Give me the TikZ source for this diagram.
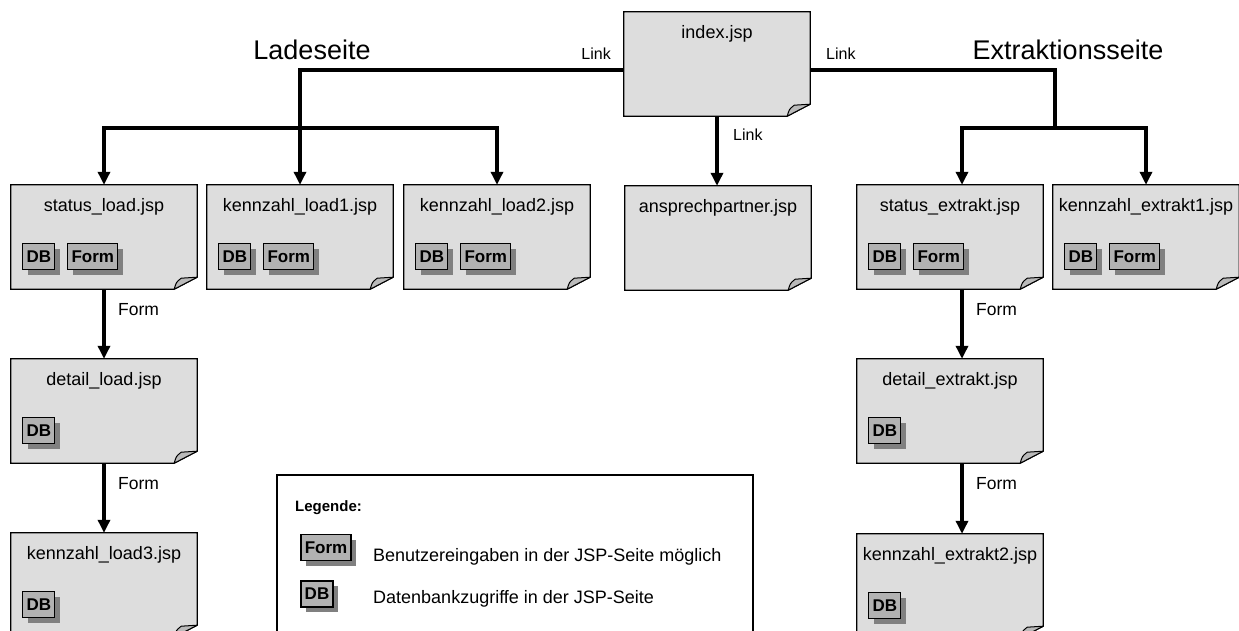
\documentclass[tikz,border=0pt]{standalone}
\usepackage{fontspec}
\setmainfont{Liberation Sans}
\usetikzlibrary{arrows.meta,shadows}

\definecolor{pagegray}{RGB}{221,221,221}
\definecolor{flapgray}{RGB}{186,186,186}
\definecolor{badgegray}{RGB}{178,178,178}
\definecolor{shadowgray}{RGB}{128,128,128}

\newcommand{\fsz}[1]{\fontsize{#1}{#1}\selectfont}

\tikzset{
  pagenode/.style={minimum width=186pt, minimum height=104pt, inner sep=0pt, draw=none},
  pagebody/.style={fill=pagegray, draw=black, line width=1.2pt},
  pageflap/.style={fill=flapgray, draw=black, line width=1pt, line join=round},
  pagetitle/.style={anchor=base, inner sep=0pt, font=\fsz{18}},
  badge/.style={draw=black, line width=1.2pt, fill=badgegray, inner sep=0pt,
    font=\bfseries\fsz{17}, minimum height=26pt,
    general shadow={fill=shadowgray, shadow xshift=5pt, shadow yshift=-5pt}},
  dbbadge/.style={badge, minimum width=32pt},
  formbadge/.style={badge, minimum width=50pt},
  conn/.style={line width=3.5pt, -{Triangle[width=12pt,length=13pt]}},
  bar/.style={line width=3.5pt},
  edgelabel/.style={anchor=base west, inner sep=0pt, font=\fsz{17.5}},
  linklabel/.style={anchor=base west, inner sep=0pt, font=\fsz{16}},
  sectionlabel/.style={anchor=base, inner sep=0pt, font=\fsz{27}},
  legendtext/.style={anchor=base west, inner sep=0pt, font=\fsz{18}},
}

% JSP page with folded bottom-right corner: name, left, top, title
\newcommand{\jsppage}[4]{%
  \node[pagenode] (#1) at (#2+93,#3+52) {};
  \filldraw[pagebody] (#1.north west) -- (#1.north east)
    -- ([yshift=12pt]#1.south east) -- ([xshift=-23pt]#1.south east)
    -- (#1.south west) -- cycle;
  \filldraw[pageflap] ([xshift=-23pt]#1.south east)
    .. controls ([xshift=-21pt,yshift=7pt]#1.south east)
    .. ([xshift=-16pt,yshift=11pt]#1.south east)
    -- ([yshift=12pt]#1.south east) -- cycle;
  \node[pagetitle] (#1-t) at ([yshift=-26.5pt]#1.north) {#4};
}
\newcommand{\jspdb}[1]{%
  \node[dbbadge] (#1-db) at ([xshift=28pt,yshift=-72pt]#1.north west) {DB};}
\newcommand{\jspform}[1]{%
  \node[formbadge] (#1-form) at ([xshift=82pt,yshift=-72pt]#1.north west) {Form};}

\begin{document}
\begin{tikzpicture}[x=1pt,y=-1pt]
\useasboundingbox (0,0) rectangle (1239,631);

% pages
\jsppage{index}{624}{12}{index.jsp}
\jsppage{sl}{11}{185}{status\_load.jsp}\jspdb{sl}\jspform{sl}
\jsppage{kl1}{207}{185}{kennzahl\_load1.jsp}\jspdb{kl1}\jspform{kl1}
\jsppage{kl2}{404}{185}{kennzahl\_load2.jsp}\jspdb{kl2}\jspform{kl2}
\jsppage{ap}{625}{186}{ansprechpartner.jsp}
\jsppage{se}{857}{185}{status\_extrakt.jsp}\jspdb{se}\jspform{se}
\jsppage{ke1}{1053}{185}{kennzahl\_extrakt1.jsp}\jspdb{ke1}\jspform{ke1}
\jsppage{dl}{11}{359}{detail\_load.jsp}\jspdb{dl}
\jsppage{de}{857}{359}{detail\_extrakt.jsp}\jspdb{de}
\jsppage{kl3}{11}{533}{kennzahl\_load3.jsp}\jspdb{kl3}
\jsppage{ke2}{857}{534}{kennzahl\_extrakt2.jsp}\jspdb{ke2}

% section titles
\node[sectionlabel] (lade) at (312,60) {Ladeseite};
\node[sectionlabel] (extr) at (1068,60) {Extraktionsseite};

% branch points
\coordinate (lbar) at (300,128);
\coordinate (rbar) at (1055,128);
\coordinate (sein) at ([xshift=12pt]se.north);

% connectors from index
\draw[conn] ([yshift=-6pt]index.west) -| (kl1.north);
\draw[bar, {Triangle[width=12pt,length=13pt]}-{Triangle[width=12pt,length=13pt]}]
  (sl.north) |- (lbar) -| (kl2.north);
\draw[bar] ([yshift=-6pt]index.east) -| (rbar);
\draw[bar, {Triangle[width=12pt,length=13pt]}-{Triangle[width=12pt,length=13pt]}]
  (sein) |- (rbar) -| (ke1.north);
\draw[conn] (index.south) -- (index.south |- ap.north);

% form chains
\draw[conn] (sl.south) -- (dl.north);
\draw[conn] (dl.south) -- (kl3.north);
\draw[conn] ([xshift=12pt]se.south) -- ([xshift=12pt]de.north);
\draw[conn] ([xshift=12pt]de.south) -- ([xshift=12pt]ke2.north);

% connector labels
\node[linklabel, anchor=base east] (lnk1) at (611,60) {Link};
\node[linklabel] (lnk2) at (826,60) {Link};
\node[linklabel] (lnk3) at (733,141) {Link};
\node[edgelabel] (frm1) at (118,315) {Form};
\node[edgelabel] (frm2) at (118,489) {Form};
\node[edgelabel] (frm3) at (976,315) {Form};
\node[edgelabel] (frm4) at (976,489) {Form};

% legend
\node[draw=black, line width=1.2pt, fill=white, minimum width=476pt,
  minimum height=185pt, inner sep=0pt] (legend) at (515,567.5) {};
\node[legendtext, font=\bfseries\fsz{15}] (legtitle) at (295,511) {Legende:};
\node[formbadge] (legform) at (326,547.5) {Form};
\node[legendtext] (legformtext) at (373,561) {Benutzereingaben in der JSP-Seite möglich};
\node[dbbadge] (legdb) at (317,594) {DB};
\node[legendtext] (legdbtext) at (373,603) {Datenbankzugriffe in der JSP-Seite};
\end{tikzpicture}
\end{document}
